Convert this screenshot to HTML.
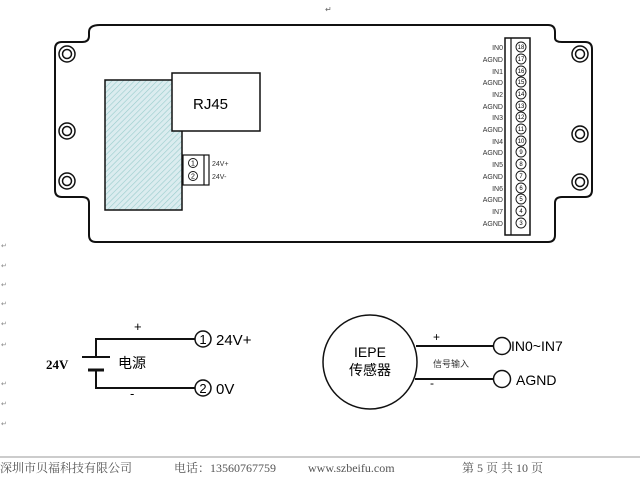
<!DOCTYPE html>
<html><head><meta charset="utf-8"><style>
body{margin:0;background:#fff;width:640px;height:483px;overflow:hidden}
svg{display:block}
text{font-family:"Liberation Sans","Noto Sans CJK SC",sans-serif}
text.serif{font-family:"Liberation Serif","Noto Serif CJK SC",serif}
</style></head><body>
<svg width="640" height="483" viewBox="0 0 640 483" xmlns="http://www.w3.org/2000/svg">
<defs>
<pattern id="h" width="4" height="4" patternUnits="userSpaceOnUse" patternTransform="rotate(45)">
<rect width="4" height="4" fill="#dbecef"/><line x1="0" y1="0" x2="0" y2="4" stroke="#9cc" stroke-width="1.2"/>
</pattern>
</defs>
<g fill="none" stroke="#111" stroke-width="2">
<path d="M100 25 H548 Q555 25 555 32 V38 Q555 42 562 42 H585 Q592 42 592 49 V190 Q592 197 585 197 H562 Q555 197 555 203 V235 Q555 242 548 242 H96 Q89 242 89 235 V203 Q89 197 82 197 H62 Q55 197 55 190 V49 Q55 42 62 42 H82 Q89 42 89 36 V32 Q89 25 100 25 Z"/>
</g>
<g fill="none" stroke="#111" stroke-width="1.5">
<circle cx="67" cy="54" r="8"/><circle cx="67" cy="54" r="4.5"/>
<circle cx="67" cy="131" r="8"/><circle cx="67" cy="131" r="4.5"/>
<circle cx="67" cy="181" r="8"/><circle cx="67" cy="181" r="4.5"/>
<circle cx="580" cy="54" r="8"/><circle cx="580" cy="54" r="4.5"/>
<circle cx="580" cy="134" r="8"/><circle cx="580" cy="134" r="4.5"/>
<circle cx="580" cy="182" r="8"/><circle cx="580" cy="182" r="4.5"/>
</g>
<rect x="105" y="80" width="77" height="130" fill="url(#h)" stroke="#111" stroke-width="1.5"/>
<rect x="172" y="73" width="88" height="58" fill="#fff" stroke="#111" stroke-width="1.5"/>
<text x="193" y="109" font-size="15">RJ45</text>
<rect x="183" y="155" width="26" height="30" fill="#fff" stroke="#111" stroke-width="1.2"/>
<line x1="204" y1="155" x2="204" y2="185" stroke="#111" stroke-width="1.2"/>
<g fill="none" stroke="#111" stroke-width="0.9"><circle cx="193" cy="163" r="4.5"/><circle cx="193" cy="176" r="4.5"/></g>
<g font-size="7" text-anchor="middle"><text x="193" y="165.5">1</text><text x="193" y="178.5">2</text></g>
<g font-size="7" fill="#333"><text x="212" y="166">24V+</text><text x="212" y="179">24V-</text></g>
<rect x="505" y="38" width="25" height="197" fill="#fff" stroke="#111" stroke-width="1.5"/>
<line x1="511" y1="38" x2="511" y2="235" stroke="#111" stroke-width="1.2"/>
<g font-size="7" fill="#333" text-anchor="end">
<text x="503" y="50">IN0</text><text x="503" y="62">AGND</text><text x="503" y="74">IN1</text><text x="503" y="85">AGND</text>
<text x="503" y="97">IN2</text><text x="503" y="109">AGND</text><text x="503" y="120">IN3</text><text x="503" y="132">AGND</text>
<text x="503" y="144">IN4</text><text x="503" y="155">AGND</text><text x="503" y="167">IN5</text><text x="503" y="179">AGND</text>
<text x="503" y="191">IN6</text><text x="503" y="202">AGND</text><text x="503" y="214">IN7</text><text x="503" y="226">AGND</text>
</g>
<g fill="none" stroke="#111" stroke-width="0.9">
<circle cx="521" cy="47" r="5"/><circle cx="521" cy="59" r="5"/><circle cx="521" cy="71" r="5"/><circle cx="521" cy="82" r="5"/>
<circle cx="521" cy="94" r="5"/><circle cx="521" cy="106" r="5"/><circle cx="521" cy="117" r="5"/><circle cx="521" cy="129" r="5"/>
<circle cx="521" cy="141" r="5"/><circle cx="521" cy="152" r="5"/><circle cx="521" cy="164" r="5"/><circle cx="521" cy="176" r="5"/>
<circle cx="521" cy="188" r="5"/><circle cx="521" cy="199" r="5"/><circle cx="521" cy="211" r="5"/><circle cx="521" cy="223" r="5"/>
</g>
<g font-size="6" text-anchor="middle">
<text x="521" y="49">18</text><text x="521" y="61">17</text><text x="521" y="73">16</text><text x="521" y="84">15</text>
<text x="521" y="96">14</text><text x="521" y="108">13</text><text x="521" y="119">12</text><text x="521" y="131">11</text>
<text x="521" y="143">10</text><text x="521" y="154">9</text><text x="521" y="166">8</text><text x="521" y="178">7</text>
<text x="521" y="190">6</text><text x="521" y="201">5</text><text x="521" y="213">4</text><text x="521" y="225">3</text>
</g>
<text x="325" y="12" font-size="8" fill="#666">↵</text>
<g font-size="7" fill="#888"><text x="1" y="248">↵</text><text x="1" y="268">↵</text><text x="1" y="287">↵</text><text x="1" y="306">↵</text><text x="1" y="326">↵</text><text x="1" y="347">↵</text><text x="1" y="386">↵</text><text x="1" y="406">↵</text><text x="1" y="426">↵</text></g>
<g stroke="#111" stroke-width="2" fill="none">
<path d="M195 339 H96 V357"/><path d="M195 388 H96 V371"/>
<line x1="82" y1="357" x2="110" y2="357"/><line x1="88" y1="370" x2="104" y2="370" stroke-width="3"/>
</g>
<g fill="none" stroke="#111" stroke-width="1.5"><circle cx="203" cy="339" r="8"/><circle cx="203" cy="388" r="8"/></g>
<g font-size="13" text-anchor="middle"><text x="203" y="344">1</text><text x="203" y="393">2</text></g>
<g font-size="15"><text x="216" y="345">24V+</text><text x="216" y="394">0V</text></g>
<text x="134" y="331" font-size="13">+</text><text x="130" y="398" font-size="13">-</text>
<text class="serif" x="46" y="369" font-size="13" font-weight="bold">24V</text>
<text x="118" y="368" font-size="14">电源</text>
<circle cx="370" cy="362" r="47" fill="none" stroke="#111" stroke-width="1.5"/>
<text x="370" y="357" font-size="14" text-anchor="middle">IEPE</text>
<text x="370" y="375" font-size="14" text-anchor="middle">传感器</text>
<g stroke="#111" stroke-width="2"><line x1="416" y1="346" x2="494" y2="346"/><line x1="415" y1="379" x2="494" y2="379"/></g>
<g fill="none" stroke="#111" stroke-width="1.5"><circle cx="502" cy="346" r="8.5"/><circle cx="502" cy="379" r="8.5"/></g>
<text x="433" y="341" font-size="12">+</text><text x="430" y="387" font-size="12">-</text>
<text x="433" y="367" font-size="9" fill="#333">信号输入</text>
<g font-size="14"><text x="511" y="351">IN0~IN7</text><text x="516" y="385">AGND</text></g>
<line x1="0" y1="457" x2="640" y2="457" stroke="#999" stroke-width="1"/>
<g font-size="12" fill="#555">
<text class="serif" x="0" y="472">深圳市贝福科技有限公司</text>
<text class="serif" x="174" y="472">电话：13560767759</text>
<text class="serif" x="308" y="472">www.szbeifu.com</text>
<text class="serif" x="462" y="472">第 5 页 共 10 页</text>
</g>
</svg>
</body></html>
